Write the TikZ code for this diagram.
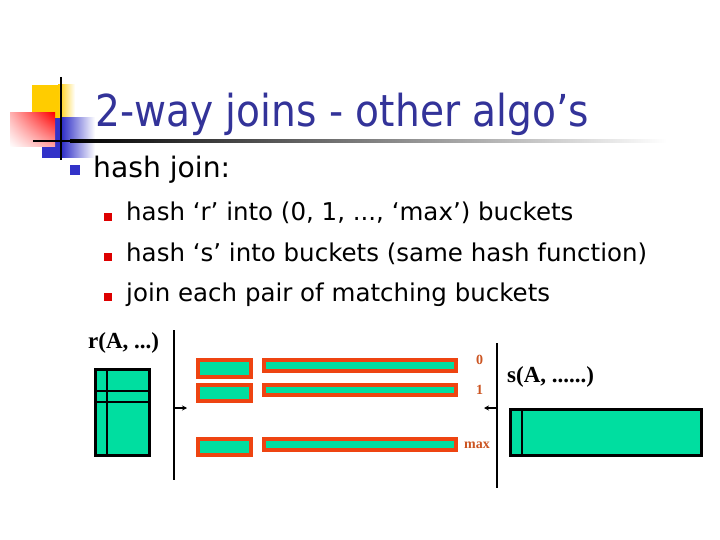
\documentclass[tikz,border=0pt]{standalone}
\usepackage{fontspec}
\setmainfont{DejaVu Sans}
\newfontfamily\titlefont[FakeStretch=0.89]{DejaVu Sans}
\newfontfamily\figfont{Liberation Serif}
\usetikzlibrary{
    arrows.meta,
    shadings
}
\definecolor{titleblue}{RGB}{51,51,153}
\definecolor{logoblue}{RGB}{50,50,200}
\definecolor{logoyellow}{RGB}{255,204,0}
\definecolor{logored}{RGB}{255,0,0}
\definecolor{bulletred}{RGB}{221,0,0}
\definecolor{tuplegreen}{RGB}{0,222,160}
\definecolor{bucketorange}{RGB}{238,68,17}
\definecolor{labelbrown}{RGB}{204,85,34}
\tikzset{
    slidetitle/.style={
        font=\titlefont\fontsize{44}{50}\selectfont,
        text=titleblue,
        anchor=base west,
        inner sep=0pt
    },
    toplevel/.style={
        font=\fontsize{28.2}{32}\selectfont,
        anchor=base west,
        inner sep=0pt
    },
    sublevel/.style={
        font=\fontsize{24.5}{29}\selectfont,
        anchor=base west,
        inner sep=0pt
    },
    relname/.style={
        font=\figfont\bfseries\fontsize{23}{26}\selectfont,
        anchor=base west,
        inner sep=0pt
    },
    bucketlabel/.style={
        font=\figfont\bfseries\fontsize{14}{16}\selectfont,
        text=labelbrown,
        inner sep=0pt
    },
    bucket/.style={
        draw=bucketorange,
        fill=tuplegreen,
        line width=4pt
    },
    relation/.style={
        draw=black,
        fill=tuplegreen,
        line width=3pt
    },
    divider/.style={
        draw=black,
        line width=1.5pt
    },
    hashline/.style={
        draw=black,
        line width=2pt
    },
    hasharrow/.style={
        -{Stealth[length=5pt, width=5pt]},
        draw=black,
        line width=1.5pt
    }
}

\begin{document}
\begin{tikzpicture}[x=1pt, y=-1pt]
\useasboundingbox[fill=white] (0,0) rectangle (720,540);

% slide logo
\fill[logoyellow] (32,85) rectangle (58,118);
\shade[left color=logoyellow, right color=white] (58,85) rectangle (75,118);
\fill[logoblue] (42,118) rectangle (62,158);
\shade[left color=logoblue, right color=white] (62,118) rectangle (95,158);
\shade[upper right=logored, upper left=logored!30!white,
       lower right=logored!35!white, lower left=white] (10,113) rectangle (55,147);
\fill[black] (33,140) rectangle (70,142.5);
\shade[left color=black, right color=white] (70,140) rectangle (667,142.5);
\draw[black, line width=2pt] (61,77) -- (61,160);

% title and bullets
\node[slidetitle] (title) at (95,127) {2-way joins - other algo’s};
\fill[logoblue] (70,165) rectangle (80,175);
\node[toplevel] (hashjoin) at (93,178) {hash join:};
\foreach \y/\txt [count=\i] in {
    221/{hash ‘r’ into (0, 1, ..., ‘max’) buckets},
    261/{hash ‘s’ into buckets (same hash function)},
    301/{join each pair of matching buckets}
} {
    \fill[bulletred] (104,\y-8) rectangle (112,\y);
    \node[sublevel] (step\i) at (126,\y) {\txt};
}

% relation r
\node[relname] (rname) at (88,348) {r(A, ...)};
\draw[relation] (95.5,369.5) rectangle (149.5,455.5);
\draw[divider] (107,369.5) -- (107,455.5);
\draw[divider] (95.5,391) -- (149.5,391);
\draw[divider] (95.5,402) -- (149.5,402);

% hash split of r
\draw[hashline] (174,330) -- (174,480);
\coordinate (rsplit) at (174,408);
\coordinate (rbuckets) at (187,408);
\draw[hasharrow] (rsplit) -- (rbuckets);

% buckets 0, 1, ..., max
\foreach \top/\sbot/\lbot in {358/379/373, 383/403/397, 437/457/452} {
    \draw[bucket] (198,\top+2) rectangle (251,\sbot-2);
    \draw[bucket] (264,\top+2) rectangle (456,\lbot-2);
}
\node[bucketlabel] (zero) at (479.5,360) {0};
\node[bucketlabel] (one) at (479.5,390) {1};
\node[bucketlabel] (max) at (477,445) {max};

% hash split of s
\draw[hashline] (497,343) -- (497,488);
\coordinate (ssplit) at (497,408);
\coordinate (sbuckets) at (484,408);
\draw[hasharrow] (ssplit) -- (sbuckets);

% relation s
\node[relname] (sname) at (507,382) {s(A, ......)};
\draw[relation] (510.5,409.5) rectangle (701.5,455.5);
\draw[divider] (522,409.5) -- (522,455.5);

\end{tikzpicture}
\end{document}
